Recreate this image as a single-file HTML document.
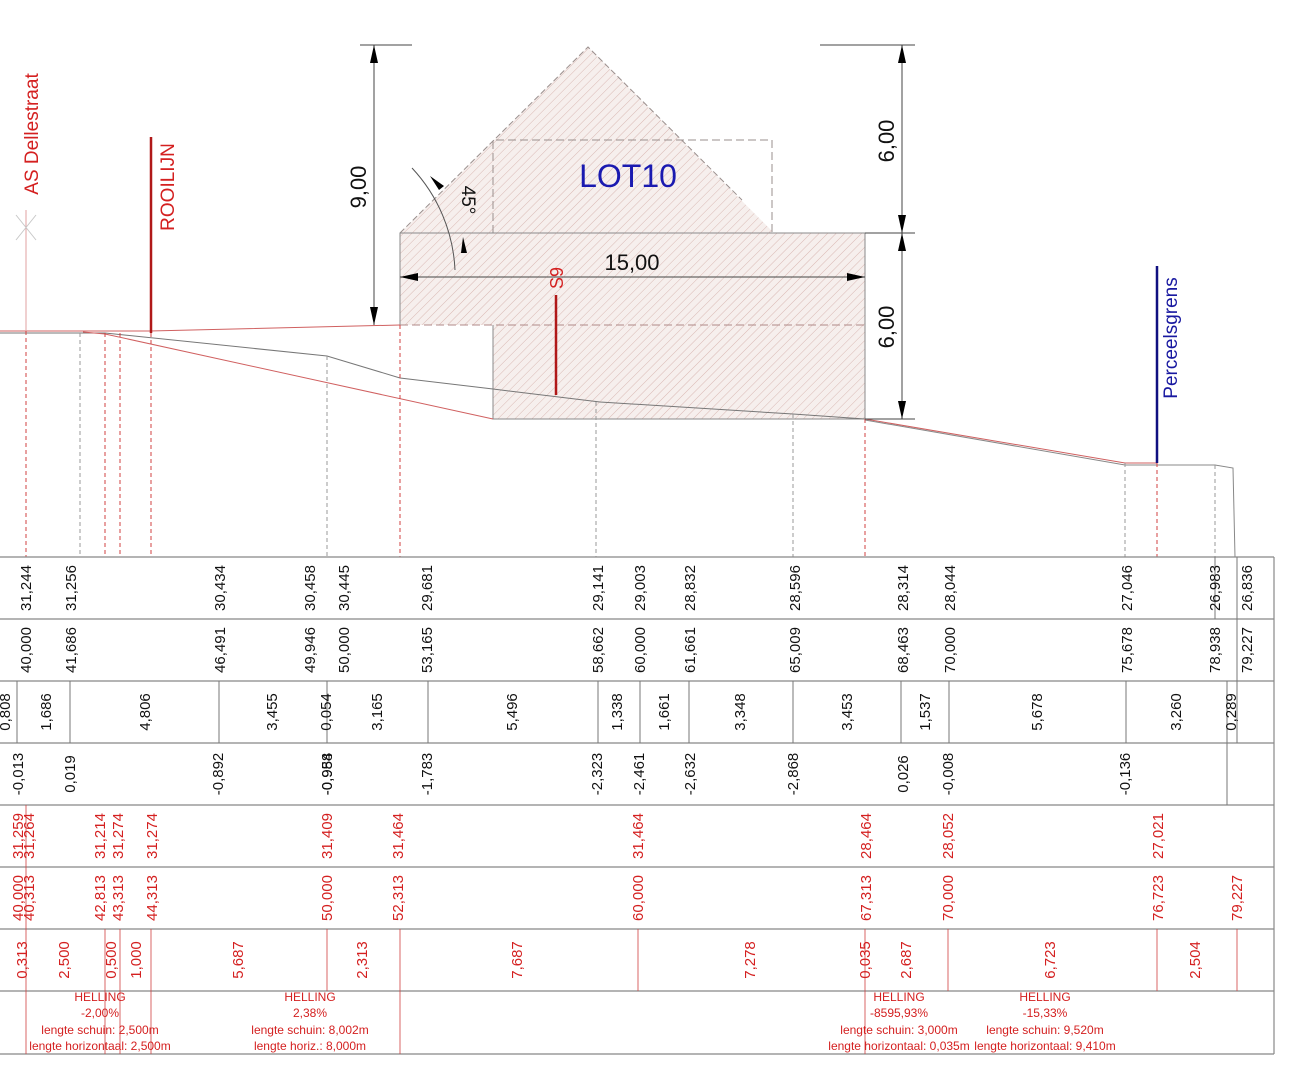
<!DOCTYPE html>
<html><head><meta charset="utf-8"><style>
html,body{margin:0;padding:0;background:#fff}
svg{display:block}
text{font-family:"Liberation Sans",Arial,sans-serif}
.b{font-size:15px;fill:#111;text-anchor:middle}
.r{font-size:15px;fill:#d42020;text-anchor:middle}
.h{font-size:12px;fill:#d42020;text-anchor:middle;font-family:"Liberation Sans Narrow","Liberation Sans",sans-serif}
</style></head><body>
<svg width="1291" height="1080" viewBox="0 0 1291 1080" xmlns="http://www.w3.org/2000/svg">
<defs>
<pattern id="hat" width="6" height="6" patternUnits="userSpaceOnUse" patternTransform="rotate(45)">
<rect width="6" height="6" fill="#f6efed"/>
<line x1="0" y1="0" x2="0" y2="6" stroke="#d9b8b3" stroke-width="1"/>
</pattern>
</defs>

<!-- House hatched -->
<path d="M400,233 L588,47 L772,231 L772,233 L865,233 L865,419 L493,419 L493,325 L400,325 Z" fill="url(#hat)" stroke="none"/>
<path d="M400,233 L588,47 L742,200" fill="none" stroke="#9a8f8d" stroke-width="1" stroke-dasharray="6,3"/>
<path d="M493,233 L493,140 L772,140 L772,233" fill="none" stroke="#9a8f8d" stroke-width="1" stroke-dasharray="8,4"/>
<path d="M400,325 L400,233 L865,233 L865,419 L493,419 L493,325" fill="none" stroke="#8a8a8a" stroke-width="1"/>
<line x1="400" y1="325" x2="865" y2="325" stroke="#b08a88" stroke-width="1" stroke-dasharray="8,4"/>

<!-- ground lines -->
<polyline points="0,333 105,333 327,356 400,378 493,389 600,402 793,414 865,419" fill="none" stroke="#777" stroke-width="1"/>
<polyline points="0,331 150,331 400,325" fill="none" stroke="#d06060" stroke-width="1"/>
<polyline points="83,332 105,334 493,419" fill="none" stroke="#d06060" stroke-width="1"/>
<polyline points="865,419 1125,463 1157,463" fill="none" stroke="#d06060" stroke-width="1"/>
<polyline points="865,420 1125,465 1215,465 1233,468 1235,557" fill="none" stroke="#888" stroke-width="1"/>

<!-- vertical dashed -->
<g stroke="#d04040" stroke-width="1" stroke-dasharray="4,3">
<line x1="26" y1="331" x2="26" y2="557"/><line x1="105" y1="333" x2="105" y2="557"/>
<line x1="120" y1="333" x2="120" y2="557"/><line x1="151" y1="333" x2="151" y2="557"/>
<line x1="400" y1="325" x2="400" y2="557"/><line x1="865" y1="419" x2="865" y2="557"/>
<line x1="1157" y1="463" x2="1157" y2="557"/>
</g>
<g stroke="#999" stroke-width="1" stroke-dasharray="4,3">
<line x1="80" y1="333" x2="80" y2="557"/><line x1="327" y1="356" x2="327" y2="557"/>
<line x1="596" y1="402" x2="596" y2="557"/><line x1="793" y1="414" x2="793" y2="557"/>
<line x1="1125" y1="463" x2="1125" y2="557"/><line x1="1215" y1="465" x2="1215" y2="557"/>
</g>

<!-- AS Dellestraat -->
<line x1="26" y1="210" x2="26" y2="331" stroke="#e0a0a0" stroke-width="1"/>
<path d="M16,215 L36,240 M36,215 L16,240" stroke="#c8c8c8" stroke-width="1" fill="none"/>
<text transform="translate(38,134) rotate(-90)" style="font-size:19px;fill:#d42020;text-anchor:middle">AS Dellestraat</text>
<line x1="151" y1="137" x2="151" y2="333" stroke="#b01818" stroke-width="2.5"/>
<text transform="translate(174,187) rotate(-90)" style="font-size:19px;fill:#d42020;text-anchor:middle">ROOILIJN</text>
<line x1="556" y1="295" x2="556" y2="395" stroke="#b01818" stroke-width="2.5"/>
<text transform="translate(563,278) rotate(-90)" style="font-size:18px;fill:#d42020;text-anchor:middle">S9</text>
<line x1="1157" y1="266" x2="1157" y2="463" stroke="#101080" stroke-width="2.5"/>
<text transform="translate(1177,338) rotate(-90)" style="font-size:19px;fill:#1818a0;text-anchor:middle">Perceelsgrens</text>
<text x="628" y="187" style="font-size:32px;fill:#1a1ab0;text-anchor:middle">LOT10</text>

<!-- dimensions -->
<line x1="360" y1="45" x2="412" y2="45" stroke="#444" stroke-width="1"/>
<line x1="374" y1="45" x2="374" y2="325" stroke="#444" stroke-width="1"/>
<path d="M374,45 l-4,18 l8,0 z M374,325 l-4,-18 l8,0 z" fill="#000"/>
<text transform="translate(366,187) rotate(-90)" style="font-size:22px;fill:#111;text-anchor:middle">9,00</text>
<line x1="820" y1="45" x2="915" y2="45" stroke="#444" stroke-width="1"/>
<line x1="865" y1="233" x2="915" y2="233" stroke="#444" stroke-width="1"/>
<line x1="865" y1="419" x2="915" y2="419" stroke="#444" stroke-width="1"/>
<line x1="902" y1="45" x2="902" y2="419" stroke="#444" stroke-width="1"/>
<path d="M902,45 l-4,18 l8,0 z M902,233 l-4,-18 l8,0 z M902,233 l-4,18 l8,0 z M902,419 l-4,-18 l8,0 z" fill="#000"/>
<text transform="translate(894,141) rotate(-90)" style="font-size:22px;fill:#111;text-anchor:middle">6,00</text>
<text transform="translate(894,327) rotate(-90)" style="font-size:22px;fill:#111;text-anchor:middle">6,00</text>
<line x1="400" y1="277" x2="865" y2="277" stroke="#444" stroke-width="1"/>
<path d="M400,277 l18,-4 l0,8 z M865,277 l-18,-4 l0,8 z" fill="#000"/>
<text x="632" y="270" style="font-size:22px;fill:#111;text-anchor:middle">15,00</text>
<path d="M412,168 A160,160 0 0 1 455,270" fill="none" stroke="#555" stroke-width="1"/>
<path d="M430,176 l14,10 l-5,4 z M463,237 l-2,16 l6,0 z" fill="#000"/>
<text transform="translate(462,200) rotate(90)" style="font-size:19px;fill:#111;text-anchor:middle">45°</text>

<!-- table -->
<g stroke="#888" stroke-width="1.2">
<line x1="0" y1="557" x2="1274" y2="557"/><line x1="0" y1="619" x2="1274" y2="619"/>
<line x1="0" y1="681" x2="1274" y2="681"/><line x1="0" y1="743" x2="1274" y2="743"/>
<line x1="0" y1="805" x2="1274" y2="805"/><line x1="0" y1="867" x2="1274" y2="867"/>
<line x1="0" y1="929" x2="1274" y2="929"/><line x1="0" y1="991" x2="1274" y2="991"/>
<line x1="0" y1="1054" x2="1274" y2="1054"/>
<line x1="1274" y1="557" x2="1274" y2="1054"/>
</g>
<g stroke="#777" stroke-width="1">
<line x1="17" y1="681" x2="17" y2="743"/><line x1="70" y1="681" x2="70" y2="743"/>
<line x1="219" y1="681" x2="219" y2="743"/><line x1="327" y1="681" x2="327" y2="743"/>
<line x1="428" y1="681" x2="428" y2="743"/><line x1="598" y1="681" x2="598" y2="743"/>
<line x1="640" y1="681" x2="640" y2="743"/><line x1="689" y1="681" x2="689" y2="743"/>
<line x1="793" y1="681" x2="793" y2="743"/><line x1="901" y1="681" x2="901" y2="743"/>
<line x1="949" y1="681" x2="949" y2="743"/><line x1="1126" y1="681" x2="1126" y2="743"/>
<line x1="1227" y1="681" x2="1227" y2="805"/><line x1="1237" y1="557" x2="1237" y2="743"/>
<line x1="1215" y1="557" x2="1215" y2="619"/>
</g>
<g stroke="#d04040" stroke-width="0.8">
<line x1="26" y1="805" x2="26" y2="1054"/><line x1="105" y1="929" x2="105" y2="1054"/>
<line x1="120" y1="929" x2="120" y2="1054"/><line x1="151" y1="929" x2="151" y2="1054"/>
<line x1="327" y1="929" x2="327" y2="991"/><line x1="400" y1="929" x2="400" y2="1054"/>
<line x1="638" y1="929" x2="638" y2="991"/><line x1="865" y1="929" x2="865" y2="1054"/>
<line x1="948" y1="929" x2="948" y2="991"/><line x1="1157" y1="929" x2="1157" y2="991"/>
<line x1="1237" y1="929" x2="1237" y2="991"/>
</g>

<g class="b">
<text class="b" transform="translate(31,588) rotate(-90)">31,244</text>
<text class="b" transform="translate(76,588) rotate(-90)">31,256</text>
<text class="b" transform="translate(225,588) rotate(-90)">30,434</text>
<text class="b" transform="translate(315,588) rotate(-90)">30,458</text>
<text class="b" transform="translate(349,588) rotate(-90)">30,445</text>
<text class="b" transform="translate(432,588) rotate(-90)">29,681</text>
<text class="b" transform="translate(603,588) rotate(-90)">29,141</text>
<text class="b" transform="translate(645,588) rotate(-90)">29,003</text>
<text class="b" transform="translate(695,588) rotate(-90)">28,832</text>
<text class="b" transform="translate(800,588) rotate(-90)">28,596</text>
<text class="b" transform="translate(908,588) rotate(-90)">28,314</text>
<text class="b" transform="translate(955,588) rotate(-90)">28,044</text>
<text class="b" transform="translate(1132,588) rotate(-90)">27,046</text>
<text class="b" transform="translate(1220,588) rotate(-90)">26,983</text>
<text class="b" transform="translate(1252,588) rotate(-90)">26,836</text>

<text class="b" transform="translate(31,650) rotate(-90)">40,000</text>
<text class="b" transform="translate(76,650) rotate(-90)">41,686</text>
<text class="b" transform="translate(225,650) rotate(-90)">46,491</text>
<text class="b" transform="translate(315,650) rotate(-90)">49,946</text>
<text class="b" transform="translate(349,650) rotate(-90)">50,000</text>
<text class="b" transform="translate(432,650) rotate(-90)">53,165</text>
<text class="b" transform="translate(603,650) rotate(-90)">58,662</text>
<text class="b" transform="translate(645,650) rotate(-90)">60,000</text>
<text class="b" transform="translate(695,650) rotate(-90)">61,661</text>
<text class="b" transform="translate(800,650) rotate(-90)">65,009</text>
<text class="b" transform="translate(908,650) rotate(-90)">68,463</text>
<text class="b" transform="translate(955,650) rotate(-90)">70,000</text>
<text class="b" transform="translate(1132,650) rotate(-90)">75,678</text>
<text class="b" transform="translate(1220,650) rotate(-90)">78,938</text>
<text class="b" transform="translate(1252,650) rotate(-90)">79,227</text>

<text class="b" transform="translate(10,712) rotate(-90)">0,808</text>
<text class="b" transform="translate(51,712) rotate(-90)">1,686</text>
<text class="b" transform="translate(150,712) rotate(-90)">4,806</text>
<text class="b" transform="translate(277,712) rotate(-90)">3,455</text>
<text class="b" transform="translate(331,712) rotate(-90)">0,054</text>
<text class="b" transform="translate(382,712) rotate(-90)">3,165</text>
<text class="b" transform="translate(517,712) rotate(-90)">5,496</text>
<text class="b" transform="translate(622,712) rotate(-90)">1,338</text>
<text class="b" transform="translate(669,712) rotate(-90)">1,661</text>
<text class="b" transform="translate(745,712) rotate(-90)">3,348</text>
<text class="b" transform="translate(852,712) rotate(-90)">3,453</text>
<text class="b" transform="translate(930,712) rotate(-90)">1,537</text>
<text class="b" transform="translate(1042,712) rotate(-90)">5,678</text>
<text class="b" transform="translate(1181,712) rotate(-90)">3,260</text>
<text class="b" transform="translate(1236,712) rotate(-90)">0,289</text>

<text class="b" transform="translate(23,774) rotate(-90)">-0,013</text>
<text class="b" transform="translate(75,774) rotate(-90)">0,019</text>
<text class="b" transform="translate(223,774) rotate(-90)">-0,892</text>
<text class="b" transform="translate(332,774) rotate(-90)">-0,958</text>
<text class="b" transform="translate(332,774) rotate(-90)">-0,984</text>
<text class="b" transform="translate(432,774) rotate(-90)">-1,783</text>
<text class="b" transform="translate(602,774) rotate(-90)">-2,323</text>
<text class="b" transform="translate(644,774) rotate(-90)">-2,461</text>
<text class="b" transform="translate(695,774) rotate(-90)">-2,632</text>
<text class="b" transform="translate(798,774) rotate(-90)">-2,868</text>
<text class="b" transform="translate(908,774) rotate(-90)">0,026</text>
<text class="b" transform="translate(953,774) rotate(-90)">-0,008</text>
<text class="b" transform="translate(1130,774) rotate(-90)">-0,136</text>
</g>

<g>
<text class="r" transform="translate(23,836) rotate(-90)">31,259</text>
<text class="r" transform="translate(34,836) rotate(-90)">31,264</text>
<text class="r" transform="translate(105,836) rotate(-90)">31,214</text>
<text class="r" transform="translate(123,836) rotate(-90)">31,274</text>
<text class="r" transform="translate(157,836) rotate(-90)">31,274</text>
<text class="r" transform="translate(332,836) rotate(-90)">31,409</text>
<text class="r" transform="translate(403,836) rotate(-90)">31,464</text>
<text class="r" transform="translate(643,836) rotate(-90)">31,464</text>
<text class="r" transform="translate(871,836) rotate(-90)">28,464</text>
<text class="r" transform="translate(953,836) rotate(-90)">28,052</text>
<text class="r" transform="translate(1163,836) rotate(-90)">27,021</text>

<text class="r" transform="translate(23,898) rotate(-90)">40,000</text>
<text class="r" transform="translate(34,898) rotate(-90)">40,313</text>
<text class="r" transform="translate(105,898) rotate(-90)">42,813</text>
<text class="r" transform="translate(123,898) rotate(-90)">43,313</text>
<text class="r" transform="translate(157,898) rotate(-90)">44,313</text>
<text class="r" transform="translate(332,898) rotate(-90)">50,000</text>
<text class="r" transform="translate(403,898) rotate(-90)">52,313</text>
<text class="r" transform="translate(643,898) rotate(-90)">60,000</text>
<text class="r" transform="translate(871,898) rotate(-90)">67,313</text>
<text class="r" transform="translate(953,898) rotate(-90)">70,000</text>
<text class="r" transform="translate(1163,898) rotate(-90)">76,723</text>
<text class="r" transform="translate(1242,898) rotate(-90)">79,227</text>

<text class="r" transform="translate(27,960) rotate(-90)">0,313</text>
<text class="r" transform="translate(69,960) rotate(-90)">2,500</text>
<text class="r" transform="translate(116,960) rotate(-90)">0,500</text>
<text class="r" transform="translate(141,960) rotate(-90)">1,000</text>
<text class="r" transform="translate(243,960) rotate(-90)">5,687</text>
<text class="r" transform="translate(367,960) rotate(-90)">2,313</text>
<text class="r" transform="translate(522,960) rotate(-90)">7,687</text>
<text class="r" transform="translate(755,960) rotate(-90)">7,278</text>
<text class="r" transform="translate(870,960) rotate(-90)">0,035</text>
<text class="r" transform="translate(911,960) rotate(-90)">2,687</text>
<text class="r" transform="translate(1055,960) rotate(-90)">6,723</text>
<text class="r" transform="translate(1200,960) rotate(-90)">2,504</text>
</g>

<g class="h">
<text class="h" x="100" y="1001">HELLING</text>
<text class="h" x="100" y="1017">-2,00%</text>
<text class="h" x="100" y="1034">lengte schuin: 2,500m</text>
<text class="h" x="100" y="1050">lengte horizontaal: 2,500m</text>
<text class="h" x="310" y="1001">HELLING</text>
<text class="h" x="310" y="1017">2,38%</text>
<text class="h" x="310" y="1034">lengte schuin: 8,002m</text>
<text class="h" x="310" y="1050">lengte horiz.: 8,000m</text>
<text class="h" x="899" y="1001">HELLING</text>
<text class="h" x="899" y="1017">-8595,93%</text>
<text class="h" x="899" y="1034">lengte schuin: 3,000m</text>
<text class="h" x="899" y="1050">lengte horizontaal: 0,035m</text>
<text class="h" x="1045" y="1001">HELLING</text>
<text class="h" x="1045" y="1017">-15,33%</text>
<text class="h" x="1045" y="1034">lengte schuin: 9,520m</text>
<text class="h" x="1045" y="1050">lengte horizontaal: 9,410m</text>
</g>
</svg>
</body></html>
